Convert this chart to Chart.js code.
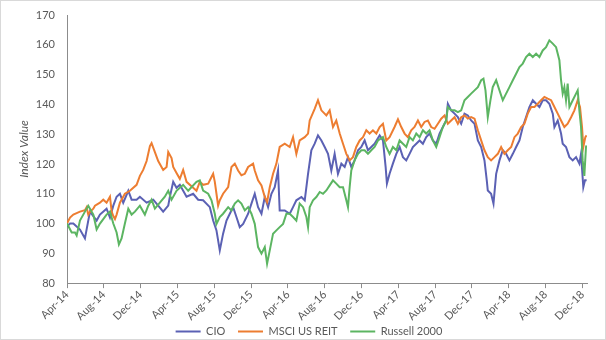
<!DOCTYPE html>
<html>
<head>
<meta charset="utf-8">
<title>CIO vs MSCI US REIT vs Russell 2000</title>
<script src="https://cdn.jsdelivr.net/npm/chart.js@4.4.1/dist/chart.umd.min.js"></script>
<style>
  html, body { margin: 0; padding: 0; background: #fff; }
  #wrap { width: 606px; height: 340px; box-sizing: border-box; border: 1px solid #d9d9d9; }
  canvas { display: block; }
</style>
</head>
<body>
<div id="wrap"><canvas id="indexChart" width="604" height="338"></canvas></div>
<script>
// x values are months since Apr-14 (0 = Apr-14, 4 = Aug-14, ...)
const tickLabels = ['Apr-14', 'Aug-14', 'Dec-14', 'Apr-15', 'Aug-15', 'Dec-15', 'Apr-16', 'Aug-16',
  'Dec-16', 'Apr-17', 'Aug-17', 'Dec-17', 'Apr-18', 'Aug-18', 'Dec-18'];

const cioMonths = [0, 0.33, 0.69, 1.41, 1.95, 2.31, 2.5, 3.22, 3.58, 4.3, 4.67, 5.03, 5.39, 5.75, 6.11, 6.66,
  7.02, 7.56, 7.92, 8.65, 9.37, 9.91, 10.45, 11, 11.18, 11.54, 11.9, 12.26, 12.99, 13.71, 14.25, 14.79,
  15.52, 15.88, 16.24, 16.6, 16.96, 17.33, 17.69, 18.05, 18.41, 18.77, 19.14, 19.68, 20.04, 20.4, 20.76,
  21.13, 21.49, 21.85, 22.21, 22.57, 22.93, 23.11, 23.66, 24.2, 24.56, 24.92, 25.47, 25.83, 26.19, 26.55,
  26.91, 27.27, 27.64, 28, 28.36, 28.72, 29.08, 29.44, 29.81, 30.17, 30.53, 30.89, 31.25, 31.62, 31.98,
  32.34, 32.7, 33.06, 33.42, 33.97, 34.33, 34.62, 34.76, 35.05, 35.41, 35.78, 36.14, 36.5, 36.86, 37.22,
  37.58, 37.95, 38.31, 38.67, 39.03, 39.39, 39.75, 40.12, 40.48, 40.84, 41.2, 41.38, 41.74, 42.11, 42.47,
  42.83, 43.19, 43.55, 43.91, 44.28, 44.64, 45, 45.36, 45.61, 45.72, 46.08, 46.34, 46.63, 46.99, 47.35,
  47.71, 48.07, 48.44, 48.8, 49.16, 49.52, 49.88, 50.24, 50.61, 50.97, 51.33, 51.69, 52.05, 52.41, 52.78,
  52.96, 53.32, 53.68, 53.86, 54.22, 54.59, 54.95, 55.31, 55.67, 55.85, 56.1, 56.28, 56.46];
const cioValues = [99, 100, 100, 98, 95, 101, 104, 101, 103, 105, 102, 106, 109, 110, 107, 111,
  108, 108, 109, 107, 108, 106, 104, 106, 109, 114, 112, 113, 109, 110, 108, 107.8,
  105.5, 101, 97.7, 91, 96.6, 101, 103.3, 105.5, 102.2, 98.8, 99.9, 103.3, 106.7, 110, 105.5,
  103.3, 108.9, 105.5, 110, 112.2, 117.8, 104.4, 104.4, 103.3, 105.5, 107.8, 108.9, 107.8, 116.7, 124.6,
  126.8, 129.6, 127.9, 125.7, 123.4, 117.8, 123.4, 116.7, 120.1, 119, 122.3, 119, 121.2, 124.6, 125.7,
  127.9, 124.6, 125.7, 126.8, 129.6, 127.9, 119, 113.4, 116.7, 120.1, 123.4, 125.7, 122.3, 121.2, 123.4,
  125.7, 126.8, 127.9, 126.8, 129, 130.2, 127.9, 126.8, 130.2, 132.4, 134.6, 140.2, 138, 136.9, 135.7,
  133.5, 136.9, 136.3, 134.6, 133.5, 127.9, 125.7, 121.2, 114.5, 111.1, 110, 106.7, 116.7, 121.2, 124.6,
  123.4, 121.2, 123.4, 125.7, 127.9, 132.4, 135.7, 139.1, 141.4, 140.2, 139.1, 141.4, 141.4, 140.2, 136.9,
  132.4, 134.6, 130.2, 126.8, 125.7, 122.3, 121.2, 122.3, 120.1, 123.4, 112.2, 114.5, 114.5];

const reitMonths = [0, 0.33, 0.69, 1.05, 1.41, 1.95, 2.13, 2.31, 2.5, 2.86, 3.04, 3.58, 3.94, 4.3, 4.67, 4.85,
  5.03, 5.21, 5.39, 5.75, 6.29, 6.84, 7.56, 7.92, 8.28, 8.65, 9.01, 9.19, 9.55, 9.91, 10.45, 10.82, 11,
  11.36, 11.54, 11.9, 12.26, 12.62, 12.99, 13.71, 14.07, 14.43, 14.79, 15.34, 15.7, 15.88, 16.06, 16.24,
  16.42, 16.6, 16.96, 17.51, 17.87, 18.23, 18.59, 18.95, 19.32, 19.68, 20.22, 20.4, 20.76, 21.13, 21.49,
  21.74, 22.03, 22.39, 22.75, 23.11, 23.66, 24.2, 24.56, 24.92, 25.28, 25.83, 26.19, 26.37, 26.91, 27.27,
  27.64, 28.18, 28.54, 28.9, 29.26, 29.63, 29.99, 30.35, 30.71, 31.07, 31.43, 31.8, 32.16, 32.52, 32.88,
  33.24, 33.61, 33.97, 34.33, 34.69, 35.05, 35.59, 35.96, 36.32, 36.68, 37.04, 37.4, 37.76, 38.13, 38.49,
  38.85, 39.21, 39.57, 39.94, 40.3, 40.66, 41.02, 41.38, 41.74, 42.11, 42.47, 42.83, 43.19, 43.55, 43.91,
  44.28, 44.64, 45, 45.36, 45.72, 46.08, 46.45, 46.81, 47.17, 47.53, 47.89, 48.26, 48.62, 48.98, 49.34,
  49.7, 50.06, 50.43, 50.79, 51.15, 51.51, 51.87, 52.23, 52.6, 52.96, 53.32, 53.68, 54.04, 54.4, 54.77,
  55.13, 55.49, 55.74, 55.96, 56.1, 56.32, 56.46];
const reitValues = [100, 102, 103, 103.5, 104, 104.5, 105.5, 103, 104, 105, 106, 107, 108, 107, 109, 104,
  102.5, 101.5, 103, 107, 110, 111, 113, 116, 118, 121, 126, 127, 124, 121, 118, 119, 124,
  122, 119, 117, 115, 118, 114, 112, 111, 114, 113, 113.4, 115.6, 116.7, 114, 110,
  106, 107.8, 110, 112.2, 119, 120.1, 117.8, 116.2, 116.7, 119, 120.1, 117.8, 114.5, 112.8, 108.9,
  107.2, 112.2, 116.7, 120.1, 125.7, 126.8, 125.7, 129, 123.4, 127.9, 129, 130.2, 134.6, 138.5, 141.4,
  138, 136.3, 138, 132.4, 134.6, 130.2, 126.8, 123.4, 121.2, 122.3, 125.7, 127.9, 129, 131.3, 130.2,
  131.3, 130.2, 132.4, 133.5, 127.9, 129, 132.4, 135, 132.4, 130.2, 129, 131.3, 132.4, 134.6, 132.4,
  134.1, 134.6, 132.4, 131.8, 133.5, 135.2, 136.3, 133.5, 134.6, 135.7, 133.5, 135.7, 136.3, 135.2, 135.7,
  135.2, 131.3, 127.9, 124.6, 122.3, 121.2, 122.3, 123.4, 125.7, 123.4, 124.6, 125.7, 129, 130.2, 132.4,
  133.5, 136.9, 139.1, 139.1, 140.2, 141.4, 142.5, 141.9, 141.4, 139.1, 136.9, 134.6, 132.4, 133.5, 135.7,
  138, 141.4, 139.1, 132.4, 125.7, 129, 129.6];

const russellMonths = [0, 0.51, 0.87, 1.05, 1.41, 1.95, 2.31, 2.86, 3.22, 3.58, 4.3, 4.67, 5.03, 5.39, 5.64,
  5.93, 6.29, 6.66, 7.02, 7.38, 7.92, 8.46, 8.83, 9.19, 9.55, 10.09, 10.63, 11, 11.36, 11.9, 12.62, 13.17,
  14.07, 14.43, 14.79, 15.34, 15.7, 16.06, 16.24, 16.6, 16.96, 17.51, 17.87, 18.23, 18.59, 18.95, 19.32,
  19.68, 20.04, 20.4, 20.76, 21.13, 21.49, 21.74, 22.03, 22.39, 22.75, 23.11, 23.48, 23.84, 24.2, 24.56,
  24.92, 25.28, 25.65, 26.01, 26.19, 26.37, 26.73, 27.09, 27.46, 27.82, 28.18, 28.54, 28.9, 29.26, 29.63,
  29.99, 30.35, 30.53, 30.71, 30.89, 31.25, 31.62, 31.98, 32.34, 32.7, 33.06, 33.42, 33.79, 34.33, 34.69,
  35.05, 35.41, 35.78, 36.14, 36.5, 36.86, 37.22, 37.58, 37.95, 38.31, 38.67, 39.03, 39.39, 39.75, 40.12,
  40.48, 40.84, 41.2, 41.38, 41.74, 42.11, 42.47, 42.83, 43.19, 43.55, 43.91, 44.28, 44.64, 45, 45.25,
  45.47, 45.72, 46.01, 46.26, 46.63, 46.99, 47.35, 47.71, 48.07, 48.44, 48.8, 49.16, 49.52, 49.88, 50.24,
  50.61, 50.97, 51.33, 51.69, 52.05, 52.41, 52.78, 53.14, 53.5, 53.68, 53.86, 54.04, 54.22, 54.4, 54.59,
  54.95, 55.31, 55.49, 55.67, 55.85, 56.03, 56.21, 56.39, 56.46];
const russellValues = [100, 97, 97, 96, 101, 104, 106, 103, 98, 100, 103, 104, 100, 97, 93,
  95, 100, 105, 103, 104, 106, 103, 106, 108, 105, 107, 109, 111, 108, 111, 113, 111,
  114, 114.5, 111.1, 110, 107.8, 103.3, 99.9, 102.2, 103.3, 105.5, 104.4, 106.7, 107.8, 106.7, 104.4,
  105.5, 103.3, 99.9, 92.1, 89.9, 92.1, 86.5, 91, 96.6, 97.7, 98.8, 99.9, 103.3, 103.3, 102.2,
  101, 106.7, 105.5, 102.2, 98.8, 105.5, 107.8, 108.9, 110.6, 110, 111.1, 112.8, 114.5, 113.4, 112.2,
  112.2, 107.8, 105.5, 112.2, 117.8, 121.2, 123.4, 124.6, 124.6, 123.4, 124.6, 125.7, 127.9, 129, 125.7,
  123.4, 125.7, 124.6, 127.9, 126.8, 125.7, 129, 127.9, 130.2, 129, 131.3, 130.2, 131.3, 127.9, 125.7,
  129, 132.4, 134.6, 139.1, 138, 138, 137.4, 138, 141.4, 142.5, 143.6, 144.7, 145.8, 148.1, 148.6,
  144.7, 135.7, 141.4, 145.8, 148.1, 144.7, 141.4, 143.6, 145.8, 148.1, 150.3, 152.5, 153.7, 155.9, 157,
  155.9, 157, 155.9, 158.1, 159.2, 161.5, 160.4, 159.2, 154.8, 148.1, 143.6, 145.8, 141.4, 147, 139.1,
  141.4, 143.6, 144.7, 138, 132.4, 121.2, 116, 125.7, 126.2];

const series = [
  { label: 'CIO', months: cioMonths, values: cioValues, color: '#5b61b4' },
  { label: 'MSCI US REIT', months: reitMonths, values: reitValues, color: '#ed7d31' },
  { label: 'Russell 2000', months: russellMonths, values: russellValues, color: '#5cb562' }
];

const axisColor = '#8c8c8c';
Chart.defaults.font.family = 'Lato, "Liberation Sans", sans-serif';
Chart.defaults.font.size = 11;
Chart.defaults.color = '#595959';

// Excel centres the legend under the plot, a little right of the canvas centre
const legendShift = {
  id: 'legendShift',
  afterLayout(chart) {
    chart.legend.left += 14;
  }
};

const ctx = document.getElementById('indexChart').getContext('2d');
new Chart(ctx, {
  type: 'line',
  data: {
    datasets: series.map((s, i) => ({
      label: s.label,
      data: s.months.map((m, j) => ({ x: m, y: s.values[j] })),
      borderColor: s.color,
      backgroundColor: s.color,
      borderWidth: 2,
      pointRadius: 0,
      tension: 0,
      order: series.length - 1 - i   // later series drawn on top, like Excel
    }))
  },
  plugins: [legendShift],
  options: {
    responsive: false,
    animation: false,
    layout: { padding: { left: 16, right: 18, top: 14, bottom: -8 } },
    plugins: {
      tooltip: { enabled: false },
      legend: {
        position: 'bottom',
        labels: {
          boxWidth: 25,
          boxHeight: 2,
          padding: 3,
          color: '#595959',
          sort: (a, b) => a.datasetIndex - b.datasetIndex,
          generateLabels: (chart) => {
            const items = Chart.defaults.plugins.legend.labels.generateLabels(chart);
            items.sort((a, b) => a.datasetIndex - b.datasetIndex);
            return items.map((it, k) => Object.assign(it, {
              lineWidth: 0,
              text: k < items.length - 1 ? it.text + '\u2003\u2009' : it.text
            }));
          }
        }
      }
    },
    scales: {
      x: {
        type: 'linear',
        min: 0,
        max: 56.5,
        afterBuildTicks: (axis) => {
          axis.ticks = tickLabels.map((_, i) => ({ value: i * 4 }));
        },
        afterFit: (axis) => {
          // Apr-14 may hang over the y labels, as in Excel
          axis.paddingLeft = 0;
        },
        ticks: {
          autoSkip: false,
          minRotation: 45,
          maxRotation: 45,
          padding: 0,
          callback: (v) => tickLabels[Math.round(v / 4)]
        },
        grid: { drawOnChartArea: false, tickLength: 5, color: axisColor },
        border: { color: axisColor }
      },
      y: {
        min: 80,
        max: 170,
        afterFit: (axis) => {
          axis.width = 50;
          axis.paddingTop = 0;
          axis.paddingBottom = 0;
        },
        ticks: { stepSize: 10, padding: 12 },
        grid: { display: false, drawTicks: false },
        border: { color: axisColor },
        title: {
          display: true,
          text: 'Index Value',
          font: { style: 'italic', size: 12 },
          padding: 0
        }
      }
    }
  }
});
</script>
</body>
</html>
